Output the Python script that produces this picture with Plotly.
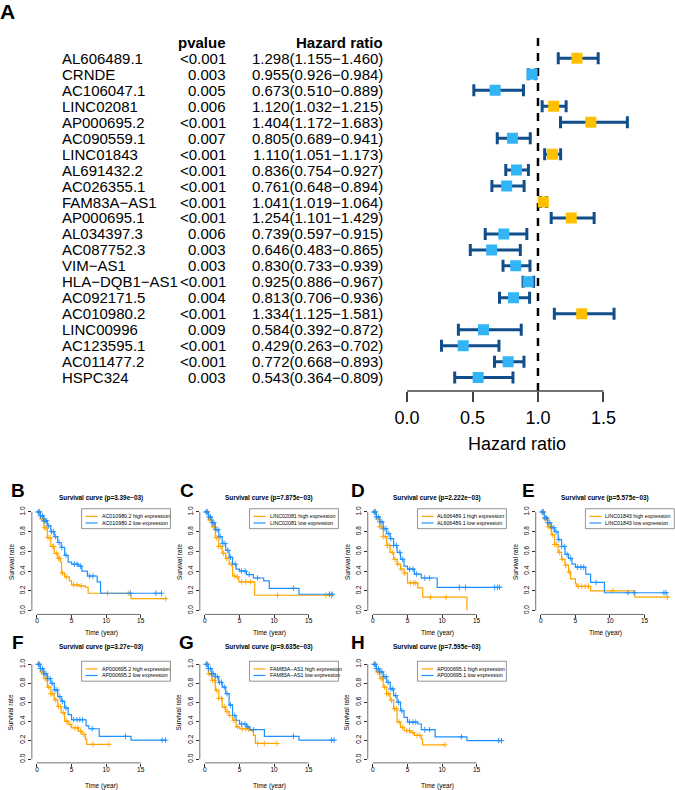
import bisect
import plotly.graph_objects as go

# ---------------- forest plot (panel A) ----------------
genes = ['AL606489.1', 'CRNDE', 'AC106047.1', 'LINC02081', 'AP000695.2', 'AC090559.1',
         'LINC01843', 'AL691432.2', 'AC026355.1', 'FAM83A−AS1', 'AP000695.1', 'AL034397.3',
         'AC087752.3', 'VIM−AS1', 'HLA−DQB1−AS1', 'AC092171.5', 'AC010980.2', 'LINC00996',
         'AC123595.1', 'AC011477.2', 'HSPC324']
pvals = ['<0.001', '0.003', '0.005', '0.006', '<0.001', '0.007', '<0.001', '<0.001', '<0.001',
         '<0.001', '<0.001', '0.006', '0.003', '0.003', '<0.001', '0.004', '<0.001', '0.009',
         '<0.001', '<0.001', '0.003']
hr = [1.298, 0.955, 0.673, 1.120, 1.404, 0.805, 1.110, 0.836, 0.761, 1.041, 1.254,
      0.739, 0.646, 0.830, 0.925, 0.813, 1.334, 0.584, 0.429, 0.772, 0.543]
hr_low = [1.155, 0.926, 0.510, 1.032, 1.172, 0.689, 1.051, 0.754, 0.648, 1.019, 1.101,
          0.597, 0.483, 0.733, 0.886, 0.706, 1.125, 0.392, 0.263, 0.668, 0.364]
hr_high = [1.460, 0.984, 0.889, 1.215, 1.683, 0.941, 1.173, 0.927, 0.894, 1.064, 1.429,
           0.915, 0.865, 0.939, 0.967, 0.936, 1.581, 0.872, 0.702, 0.893, 0.809]
hr_ticks = [0.0, 0.5, 1.0, 1.5]

# ---------------- survival curves (panels B-H) ----------------
# t = step times, s = survival after the step, c = censored times
b_gene, b_p = 'AC010980.2', '3.39e−03'
b_hi_t = [0, 0.5, 1, 1.5, 2, 2.5, 3, 3.4, 3.55, 4, 4.7, 5, 6.1, 7, 7.4, 13.6, 18.8]
b_hi_s = [1.0, 0.93, 0.84, 0.74, 0.65, 0.58, 0.53, 0.49, 0.38, 0.34, 0.30, 0.26, 0.25, 0.235, 0.175, 0.12, 0.12]
b_hi_c = [0.2, 0.4, 0.7, 0.9, 1.1, 1.3, 1.6, 1.9, 2.2, 2.4, 2.8, 3.1, 3.3, 3.7, 4.3, 5.3, 5.8, 6.4, 10.2, 13.2, 18.6]
b_lo_t = [0, 0.5, 1, 1.5, 2, 2.5, 3, 3.5, 4, 4.5, 5, 6, 6.5, 7.3, 8.7, 9.2, 18.0]
b_lo_s = [1.0, 0.96, 0.91, 0.86, 0.80, 0.75, 0.69, 0.64, 0.56, 0.49, 0.47, 0.45, 0.40, 0.35, 0.29, 0.175, 0.175]
b_lo_c = [0.2, 0.3, 0.5, 0.8, 1.0, 1.2, 1.4, 1.7, 2.1, 2.4, 2.7, 3.2, 3.6, 4.2, 5.4, 5.8, 6.3, 7.6, 8.1, 13.5, 17.2, 18.0]

c_gene, c_p = 'LINC02081', '7.875e−03'
c_hi_t = [0, 0.5, 1, 1.5, 2, 2.5, 3, 3.5, 4, 4.5, 4.9, 7.2, 18.5]
c_hi_s = [1.0, 0.92, 0.85, 0.74, 0.65, 0.58, 0.53, 0.47, 0.35, 0.34, 0.29, 0.155, 0.155]
c_hi_c = [0.2, 0.4, 0.7, 0.9, 1.2, 1.4, 1.7, 2.0, 2.3, 2.7, 3.1, 3.8, 4.3, 4.7, 5.3, 5.9, 6.6, 10.5, 17.5, 18.3]
c_lo_t = [0, 0.5, 1, 1.5, 2, 2.5, 3, 3.5, 4, 4.5, 5, 6, 7, 8.5, 9.3, 13.6, 18.6]
c_lo_s = [1.0, 0.95, 0.89, 0.82, 0.75, 0.68, 0.61, 0.54, 0.47, 0.42, 0.40, 0.365, 0.33, 0.30, 0.225, 0.165, 0.165]
c_lo_c = [0.2, 0.3, 0.6, 0.8, 1.1, 1.3, 1.6, 1.9, 2.2, 2.6, 2.9, 3.3, 3.7, 4.4, 5.3, 5.8, 6.4, 7.6, 12.8, 18.0, 18.4]

d_gene, d_p = 'AL606489.1', '2.222e−03'
d_hi_t = [0, 0.5, 1, 1.5, 2, 2.5, 3, 3.5, 4, 4.5, 5, 6.5, 7.2, 13.6]
d_hi_s = [1.0, 0.93, 0.85, 0.75, 0.66, 0.59, 0.52, 0.47, 0.42, 0.38, 0.28, 0.23, 0.135, 0.0]
d_hi_c = [0.2, 0.4, 0.7, 1.0, 1.2, 1.5, 1.8, 2.1, 2.4, 2.8, 3.2, 3.6, 4.1, 4.6, 5.4, 5.9, 6.2, 8.3, 10.6]
d_lo_t = [0, 0.5, 1, 1.5, 2, 2.5, 3, 3.5, 4, 4.5, 5, 6, 7, 9.3, 18.6]
d_lo_s = [1.0, 0.95, 0.90, 0.83, 0.78, 0.73, 0.66, 0.59, 0.52, 0.45, 0.42, 0.37, 0.33, 0.235, 0.235]
d_lo_c = [0.2, 0.3, 0.5, 0.8, 1.0, 1.3, 1.6, 1.9, 2.3, 2.6, 3.0, 3.4, 3.9, 4.3, 5.3, 5.8, 6.3, 7.5, 8.2, 12.5, 13.4, 17.6, 18.0, 18.3]

e_gene, e_p = 'LINC01843', '5.575e−03'
e_hi_t = [0, 0.5, 1, 1.5, 2, 2.5, 3, 3.5, 4, 4.3, 5, 5.2, 7.2, 13.6, 18.5]
e_hi_s = [1.0, 0.93, 0.85, 0.77, 0.67, 0.59, 0.52, 0.46, 0.39, 0.32, 0.27, 0.245, 0.20, 0.135, 0.135]
e_hi_c = [0.2, 0.4, 0.6, 0.9, 1.1, 1.4, 1.7, 2.0, 2.3, 2.7, 3.1, 3.6, 4.1, 5.4, 5.9, 6.4, 6.9, 10.4, 18.3]
e_lo_t = [0, 0.5, 1, 1.5, 2, 2.5, 3, 3.5, 4, 4.5, 5, 6.5, 7.2, 9.2, 18.4]
e_lo_s = [1.0, 0.94, 0.89, 0.84, 0.80, 0.72, 0.65, 0.57, 0.53, 0.47, 0.44, 0.37, 0.285, 0.18, 0.18]
e_lo_c = [0.2, 0.3, 0.6, 0.8, 1.0, 1.3, 1.6, 1.9, 2.2, 2.6, 3.0, 3.4, 3.8, 4.3, 5.3, 5.8, 6.2, 8.0, 12.6, 13.5, 17.8, 18.1]

f_gene, f_p = 'AP000695.2', '3.27e−03'
f_hi_t = [0, 0.5, 1, 1.5, 2, 2.5, 3, 3.5, 4, 4.5, 5, 6, 6.5, 7, 7.2, 10.4]
f_hi_s = [1.0, 0.92, 0.85, 0.76, 0.69, 0.625, 0.555, 0.49, 0.40, 0.365, 0.33, 0.295, 0.26, 0.21, 0.155, 0.155]
f_hi_c = [0.2, 0.4, 0.7, 0.9, 1.2, 1.4, 1.7, 2.0, 2.3, 2.7, 3.1, 3.4, 3.8, 4.3, 4.8, 5.5, 5.9, 6.3, 6.8, 8.1, 10.4]
f_lo_t = [0, 0.5, 1, 1.5, 2, 2.5, 3, 3.5, 4, 4.5, 5, 7.1, 7.5, 9, 13.6, 18.7]
f_lo_s = [1.0, 0.955, 0.90, 0.85, 0.80, 0.73, 0.66, 0.61, 0.54, 0.47, 0.415, 0.35, 0.32, 0.24, 0.20, 0.20]
f_lo_c = [0.2, 0.3, 0.5, 0.8, 1.0, 1.3, 1.6, 1.9, 2.2, 2.6, 2.9, 3.3, 3.7, 4.2, 5.3, 5.8, 6.2, 6.6, 8.0, 12.8, 18.1, 18.6]

g_gene, g_p = 'FAM83A−AS1', '9.635e−03'
g_hi_t = [0, 0.5, 1, 1.5, 2, 2.5, 3, 3.5, 4, 4.5, 5, 6.5, 7, 7.3, 10.4]
g_hi_s = [1.0, 0.90, 0.83, 0.725, 0.64, 0.55, 0.50, 0.46, 0.41, 0.34, 0.32, 0.30, 0.25, 0.165, 0.165]
g_hi_c = [0.2, 0.4, 0.6, 0.9, 1.1, 1.4, 1.7, 2.0, 2.4, 2.8, 3.2, 3.6, 4.2, 4.7, 5.4, 5.9, 6.3, 7.6, 8.6, 10.4]
g_lo_t = [0, 0.5, 1, 1.5, 2, 2.5, 3, 3.5, 4, 4.5, 5, 6, 6.5, 8.6, 13.6, 18.7]
g_lo_s = [1.0, 0.955, 0.90, 0.87, 0.81, 0.76, 0.69, 0.57, 0.46, 0.41, 0.37, 0.34, 0.31, 0.24, 0.20, 0.20]
g_lo_c = [0.2, 0.3, 0.5, 0.8, 1.0, 1.2, 1.5, 1.8, 2.1, 2.4, 2.8, 3.2, 3.7, 4.3, 5.3, 5.8, 6.2, 7.0, 12.8, 18.3, 18.7]

h_gene, h_p = 'AP000695.1', '7.595e−03'
h_hi_t = [0, 0.5, 1, 1.5, 2, 2.5, 3, 3.5, 4, 4.5, 5.5, 6, 7, 7.2, 10.4]
h_hi_s = [1.0, 0.92, 0.85, 0.76, 0.69, 0.62, 0.53, 0.39, 0.335, 0.30, 0.28, 0.25, 0.21, 0.15, 0.15]
h_hi_c = [0.2, 0.4, 0.7, 0.9, 1.2, 1.4, 1.7, 2.0, 2.3, 2.7, 3.1, 3.4, 3.8, 4.3, 4.9, 5.3, 5.8, 6.4, 6.8, 10.4]
h_lo_t = [0, 0.5, 1, 1.5, 2, 2.5, 3, 3.5, 4, 4.5, 5, 6.5, 7, 9, 13.6, 18.7]
h_lo_s = [1.0, 0.955, 0.92, 0.87, 0.81, 0.74, 0.67, 0.60, 0.51, 0.44, 0.39, 0.37, 0.31, 0.235, 0.195, 0.195]
h_lo_c = [0.2, 0.3, 0.5, 0.8, 1.0, 1.3, 1.6, 1.9, 2.2, 2.6, 2.9, 3.3, 3.7, 4.2, 5.3, 5.8, 6.2, 7.5, 8.2, 12.8, 18.2, 18.6]

km_xticks = [0, 5, 10, 15]
km_yticks = [0.0, 0.2, 0.4, 0.6, 0.8, 1.0]

# panel letter, gene, p, curves
panels = [
    ('B', b_gene, b_p, (b_hi_t, b_hi_s, b_hi_c), (b_lo_t, b_lo_s, b_lo_c)),
    ('C', c_gene, c_p, (c_hi_t, c_hi_s, c_hi_c), (c_lo_t, c_lo_s, c_lo_c)),
    ('D', d_gene, d_p, (d_hi_t, d_hi_s, d_hi_c), (d_lo_t, d_lo_s, d_lo_c)),
    ('E', e_gene, e_p, (e_hi_t, e_hi_s, e_hi_c), (e_lo_t, e_lo_s, e_lo_c)),
    ('F', f_gene, f_p, (f_hi_t, f_hi_s, f_hi_c), (f_lo_t, f_lo_s, f_lo_c)),
    ('G', g_gene, g_p, (g_hi_t, g_hi_s, g_hi_c), (g_lo_t, g_lo_s, g_lo_c)),
    ('H', h_gene, h_p, (h_hi_t, h_hi_s, h_hi_c), (h_lo_t, h_lo_s, h_lo_c)),
]

W, H = 675, 790
FONT = 'Liberation Sans'
BOX_UP = '#FFC000'
BOX_DOWN = '#33B5F5'
BAR = '#104E8B'
KM_HIGH = '#FFA500'
KM_LOW = '#1E90FF'


def px(x):
    return x / W


def py(y):
    return 1 - y / H


def step_at(ts, ss, t):
    return ss[bisect.bisect_right(ts, t) - 1]


def note(x, y, text, font, xanchor='center', yref='paper', **kw):
    # explicit anchors: 'auto' would snap paper-positioned labels to left/right
    return dict(x=x, y=y, xref='paper', yref=yref, text=text, font=font, showarrow=False,
                xanchor=xanchor, yanchor='middle', borderpad=0, **kw)


fig = go.Figure()
ann = []
shapes = []

# ---- forest plot
rows = list(range(len(genes)))
fig.add_trace(go.Scatter(
    x=hr, y=rows, mode='markers', xaxis='x', yaxis='y', hoverinfo='skip',
    marker=dict(symbol='square', size=11, line=dict(width=0),
                color=[BOX_UP if h > 1 else BOX_DOWN for h in hr]),
    error_x=dict(type='data', symmetric=False,
                 array=[u - h for h, u in zip(hr, hr_high)],
                 arrayminus=[h - l for h, l in zip(hr, hr_low)],
                 color=BAR, thickness=3, width=6)))

txt = dict(family=FONT, size=15, color='black')
for r, g, p, h, l, u in zip(rows, genes, pvals, hr, hr_low, hr_high):
    ann.append(note(px(60), r, g, txt, xanchor='left', yref='y'))
    ann.append(note(px(226), r, p, txt, xanchor='right', yref='y'))
    ann.append(note(px(384), r, f'{h:.3f}({l:.3f}−{u:.3f})', txt, xanchor='right', yref='y'))
ann.append(note(px(226), -1, '<b>pvalue</b>', txt, xanchor='right', yref='y'))
ann.append(note(px(384), -1, '<b>Hazard ratio</b>', txt, xanchor='right', yref='y'))
ann.append(note(px(517), py(443), 'Hazard ratio', dict(family=FONT, size=18, color='black')))
ann.append(note(px(6.5), py(9.5), '<b>A</b>', dict(family=FONT, size=21, color='black')))

shapes.append(dict(type='line', xref='x', yref='paper', x0=1, x1=1, y0=py(390), y1=py(33),
                   line=dict(color='black', width=2.5, dash='8px,7px'), layer='below'))
shapes.append(dict(type='line', xref='x', yref='paper', x0=hr_ticks[0], x1=hr_ticks[-1],
                   y0=py(390), y1=py(390), line=dict(color='#444', width=1.5)))

layout_axes = dict(
    xaxis=dict(domain=[px(395), px(650)], range=[-0.089, 1.856], anchor='y',
               tickvals=hr_ticks, tickformat='.1f', ticks='outside', ticklen=10,
               tickwidth=1.5, tickcolor='#444', showgrid=False, zeroline=False,
               showline=False, tickfont=dict(family=FONT, size=18, color='black')),
    yaxis=dict(domain=[py(390), py(30)], range=[20.84, -1.656], anchor='x', visible=False),
)

# ---- survival panels
col_x0 = [30.9, 199.1, 367.3, 535.5]
pw = 138.8
row_y = [(507.3, 614.0), (660.2, 762.8)]
title_y = [497, 647]
letter_x = [17, 186, 358, 528]
letter_y = [490, 642]
xlab_y = [633, 786]
small = dict(family=FONT, size=6.5, color='black')

for k, (letter, gene, p, hi, lo) in enumerate(panels):
    n = k + 2
    rr, cc = divmod(k, 4)
    x0 = col_x0[cc]
    x1 = x0 + pw
    top, bot = row_y[rr]
    xa, ya = f'x{n}', f'y{n}'

    for (t, s, c), col in ((hi, KM_HIGH), (lo, KM_LOW)):
        fig.add_trace(go.Scatter(x=t, y=s, mode='lines', xaxis=xa, yaxis=ya, hoverinfo='skip',
                                 line=dict(shape='hv', color=col, width=1.2)))
        fig.add_trace(go.Scatter(x=c, y=[step_at(t, s, v) for v in c], mode='markers',
                                 xaxis=xa, yaxis=ya, hoverinfo='skip',
                                 marker=dict(symbol='cross-thin', size=4, color=col,
                                             line=dict(width=0.9, color=col))))

    layout_axes[f'xaxis{n}'] = dict(
        domain=[px(x0), px(x1)], range=[-0.74, 19.3], anchor=ya, tickvals=km_xticks,
        ticks='outside', ticklen=3, tickwidth=0.7, tickcolor='#333', showgrid=False,
        zeroline=False, showline=False, tickfont=small, ticklabelstandoff=-3)
    layout_axes[f'yaxis{n}'] = dict(
        domain=[py(bot), py(top)], range=[-0.04, 1.04], anchor=xa, tickvals=km_yticks,
        tickformat='.1f', tickangle=-90, ticks='outside', ticklen=3, tickwidth=0.7,
        tickcolor='#333', showgrid=False, zeroline=False, showline=False, tickfont=small)

    # R-style axis lines spanning the tick range
    shapes.append(dict(type='line', xref=xa, yref=f'{ya} domain', x0=km_xticks[0],
                       x1=km_xticks[-1], y0=0, y1=0, line=dict(color='#333', width=0.7)))
    shapes.append(dict(type='line', xref=f'{xa} domain', yref=ya, x0=0, x1=0,
                       y0=km_yticks[0], y1=km_yticks[-1], line=dict(color='#333', width=0.7)))

    # legend box (top right of the plot region)
    lx0, ly0 = x1 - 89, top + 0.7
    shapes.append(dict(type='rect', xref='paper', yref='paper', x0=px(lx0), x1=px(x1),
                       y0=py(ly0), y1=py(ly0 + 20), line=dict(color='#777', width=0.8)))
    for j, (lab, col) in enumerate(((f'{gene} high expression', KM_HIGH),
                                    (f'{gene} low expression', KM_LOW))):
        yy = ly0 + 7.7 + 6.6 * j
        shapes.append(dict(type='line', xref='paper', yref='paper', x0=px(lx0 + 4),
                           x1=px(lx0 + 16), y0=py(yy), y1=py(yy), line=dict(color=col, width=1.2)))
        ann.append(note(px(lx0 + 19), py(yy), lab, dict(family=FONT, size=5.3, color='black'),
                        xanchor='left'))

    cx = px((x0 + x1) / 2)
    ann.append(note(cx, py(title_y[rr]), f'<b>Survival curve (p={p})</b>',
                    dict(family=FONT, size=6.4, color='black')))
    ann.append(note(cx, py(xlab_y[rr]), 'Time (year)', small))
    ann.append(note(px(x0 - 21), py((top + bot) / 2), 'Survival rate', small, textangle=-90))
    ann.append(note(px(letter_x[cc]), py(letter_y[rr]), f'<b>{letter}</b>',
                    dict(family=FONT, size=19, color='black')))

fig.update_layout(
    width=W, height=H, margin=dict(l=0, r=0, t=0, b=0),
    paper_bgcolor='white', plot_bgcolor='white', showlegend=False,
    annotations=ann, shapes=shapes, **layout_axes)

# page body has an 8px default margin; drop it so the figure fills the window
fig.write_html('out.html', config={'displayModeBar': False},
               post_script="document.body.style.margin = '0';")
